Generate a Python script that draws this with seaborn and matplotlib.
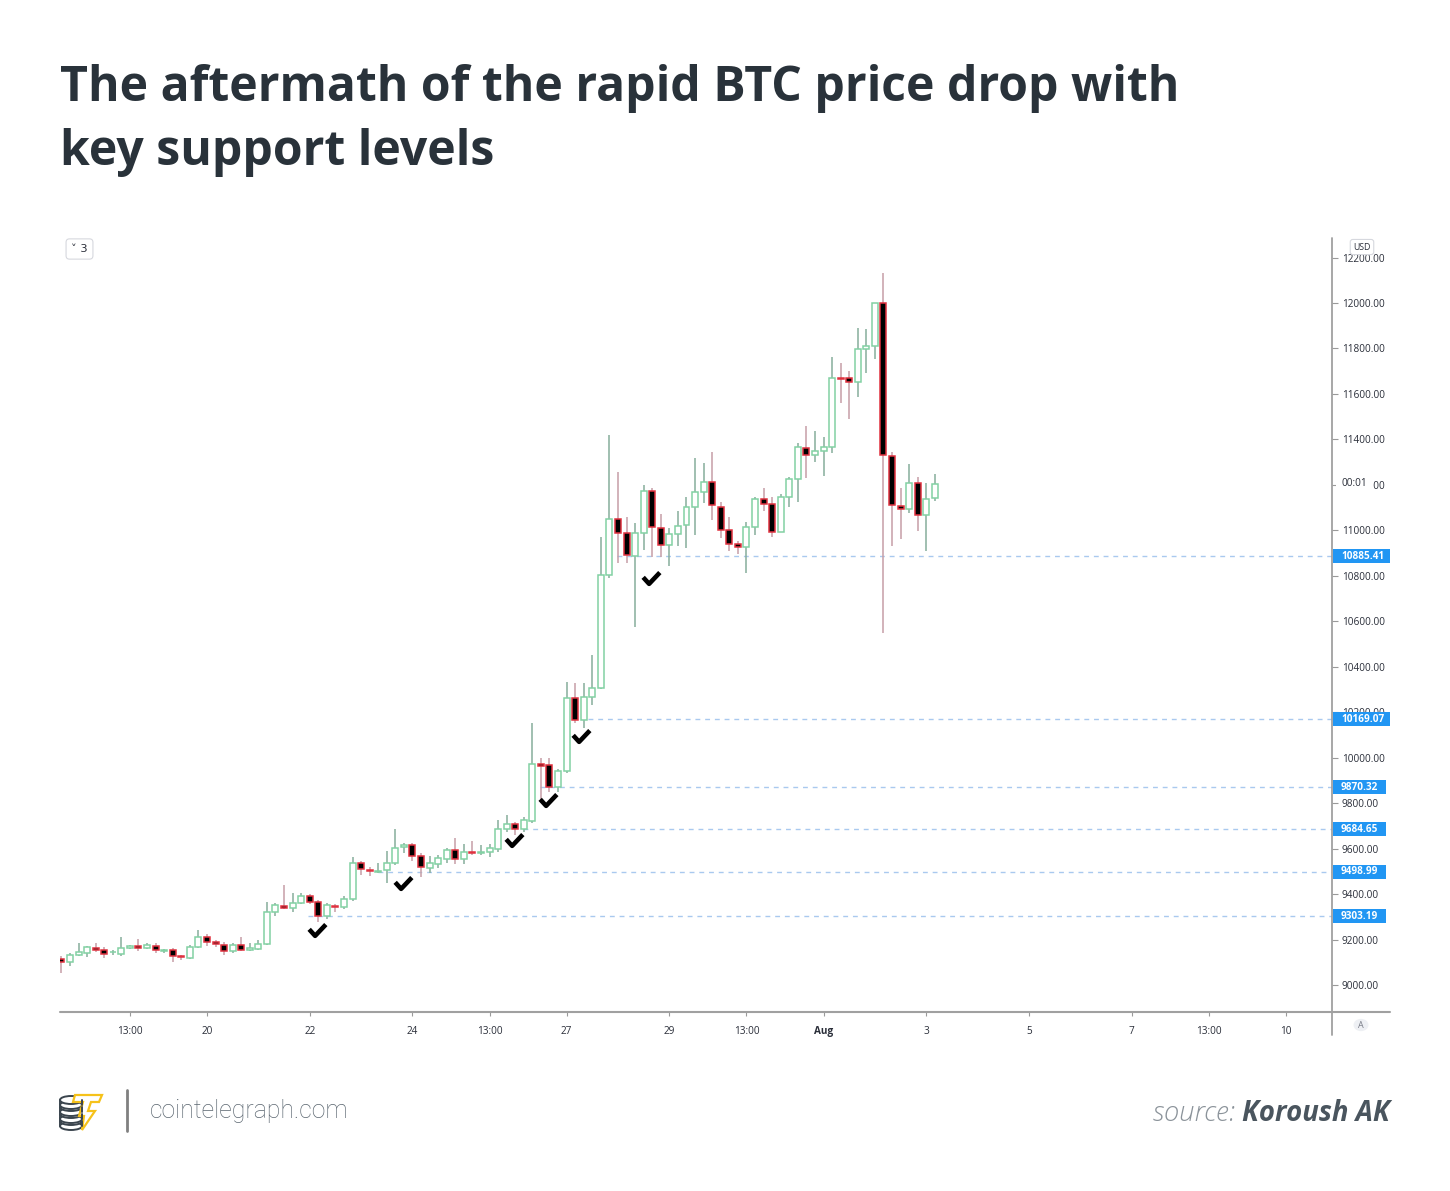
import numpy as np
import matplotlib
matplotlib.use("Agg")
import matplotlib.pyplot as plt
import seaborn as sns
from matplotlib.lines import Line2D
from matplotlib.patches import Rectangle, Ellipse, Polygon, Circle
from matplotlib.path import Path
from matplotlib.transforms import blended_transform_factory
from matplotlib.ticker import FuncFormatter

# ---------------- data (4h BTC/USD candles) ----------------
opens = [9114, 9101, 9132, 9142, 9164, 9154, 9143, 9138, 9162, 9171,
         9164, 9173, 9151, 9152, 9125, 9120, 9166, 9212, 9188, 9177,
         9148, 9174, 9154, 9158, 9179, 9320, 9349, 9337, 9359, 9393,
         9365, 9303, 9349, 9344, 9377, 9535, 9508, 9499, 9508, 9535,
         9606, 9614, 9569, 9515, 9533, 9554, 9594, 9553, 9587, 9580,
         9585, 9597, 9685, 9708, 9686, 9723, 9972, 9967, 9872, 9941,
         10261, 10166, 10269, 10308, 10804, 11050, 10987, 10887, 10990, 11174,
         11011, 10935, 10984, 11023, 11104, 11170, 11214, 11104, 11001, 10939,
         10925, 11013, 11138, 11115, 10991, 11148, 11226, 11361, 11331, 11350,
         11368, 11669, 11669, 11651, 11796, 11811, 11999, 11327, 11108, 11094,
         11207, 11067, 11141]
highs = [9127, 9141, 9185, 9173, 9185, 9169, 9152, 9210, 9176, 9204,
         9183, 9183, 9160, 9161, 9132, 9176, 9242, 9224, 9198, 9190,
         9183, 9210, 9186, 9198, 9367, 9359, 9440, 9403, 9403, 9400,
         9374, 9359, 9356, 9390, 9565, 9547, 9521, 9538, 9591, 9685,
         9626, 9625, 9580, 9569, 9574, 9601, 9645, 9621, 9635, 9614,
         9621, 9726, 9748, 9718, 9741, 10151, 9997, 9997, 9950, 10334,
         10328, 10330, 10452, 10972, 11419, 11258, 11060, 11031, 11199, 11185,
         11072, 11009, 11086, 11148, 11317, 11295, 11346, 11126, 11060, 10954,
         11038, 11148, 11188, 11148, 11160, 11236, 11386, 11459, 11437, 11412,
         11764, 11737, 11701, 11889, 11886, 11999, 12133, 11346, 11188, 11292,
         11236, 11210, 11246]
lows = [9053, 9084, 9127, 9123, 9145, 9120, 9130, 9127, 9157, 9150,
        9159, 9140, 9140, 9103, 9110, 9114, 9162, 9173, 9167, 9132,
        9140, 9150, 9150, 9154, 9176, 9305, 9334, 9320, 9355, 9357,
        9279, 9290, 9320, 9335, 9371, 9484, 9480, 9491, 9450, 9528,
        9580, 9546, 9474, 9491, 9513, 9535, 9533, 9533, 9572, 9572,
        9565, 9584, 9675, 9660, 9671, 9714, 9800, 9850, 9850, 9934,
        10154, 10129, 10232, 10300, 10790, 10855, 10855, 10576, 10913, 10884,
        10884, 10843, 10931, 10921, 10979, 11122, 11045, 10965, 10909, 10895,
        10811, 10979, 11087, 10972, 10991, 11104, 11126, 11229, 11299, 11237,
        11342, 11559, 11488, 11588, 11691, 11752, 10547, 10931, 10960, 11076,
        10998, 10910, 11130]
closes = [9101, 9132, 9145, 9166, 9152, 9138, 9145, 9162, 9173, 9164,
          9174, 9154, 9153, 9127, 9122, 9166, 9212, 9188, 9180, 9150,
          9174, 9154, 9163, 9179, 9320, 9351, 9337, 9359, 9393, 9365,
          9303, 9350, 9341, 9377, 9535, 9509, 9501, 9503, 9535, 9604,
          9616, 9569, 9517, 9535, 9557, 9594, 9553, 9587, 9580, 9587,
          9602, 9685, 9708, 9686, 9724, 9972, 9965, 9872, 9941, 10261,
          10166, 10265, 10308, 10804, 11050, 10987, 10891, 10990, 11173, 11013,
          10935, 10983, 11019, 11104, 11170, 11214, 11111, 11001, 10940, 10927,
          11013, 11136, 11114, 10991, 11148, 11226, 11365, 11331, 11350, 11368,
          11669, 11665, 11654, 11796, 11811, 11999, 11331, 11111, 11094, 11207,
          11067, 11138, 11204]

support_levels = [10885.41, 10169.07, 9870.32, 9684.65, 9498.99, 9303.19]
support_start = [64.9, 61.5, 55.9, 53.9, 37.0, 28.8]      # candle index where each line starts
check_x = [29.8, 39.9, 52.8, 56.8, 60.7, 68.8]              # check marks (candle index)
check_y = [9242, 9449, 9638, 9814, 10095, 10790]            # check marks (price)

xtick_pos = [8, 17, 29, 41, 50, 59, 71, 80, 89, 101, 113, 125, 134, 143]
xtick_labels = ["13:00", "20", "22", "24", "13:00", "27", "29", "13:00",
                "Aug", "3", "5", "7", "13:00", "10"]
ytick_vals = list(range(9000, 12201, 200))
last_price = 11204

title_lines = ["The aftermath of the rapid BTC price drop with", "key support levels"]
site = "cointelegraph.com"
source_label = "source: "
source_name = "Koroush AK"

# ---------------- styling ----------------
sns.set_theme(style="white")
plt.rcParams['font.family'] = ['Open Sans', 'DejaVu Sans']

W, H = 1450, 1191
fig = plt.figure(figsize=(W / 100, H / 100), dpi=100)
fig.patch.set_facecolor("white")

def fx(px):
    return px / W

def fy(py):
    return 1 - py / H

AX_L, AX_R, AX_T, AX_B = 60, 1332, 238, 1012
ax = fig.add_axes([fx(AX_L), fy(AX_B), fx(AX_R) - fx(AX_L), fy(AX_T) - fy(AX_B)])
ax.set_facecolor("white")
for s in ax.spines.values():
    s.set_visible(False)

step = 8.563
x0 = 61.4
ax.set_xlim((AX_L - x0) / step, (AX_R - x0) / step)
ppx = 3000 / 682.0
ax.set_ylim(12000 - (AX_B - 303) * ppx, 12000 + (303 - AX_T) * ppx)

o = np.array(opens, float); h = np.array(highs, float)
l = np.array(lows, float); c = np.array(closes, float)
idx = np.arange(len(o))
up = c >= o

wick_up, wick_dn = "#86ad9b", "#c69ea7"
edge_up, edge_dn = "#82d1a3", "#e0313f"
ax.vlines(idx, l, h, colors=np.where(up, wick_up, wick_dn), lw=1.1, zorder=2)
body_lo = np.minimum(o, c)
body_h = np.maximum(np.abs(c - o), 4)
ax.bar(idx, body_h, bottom=body_lo, width=0.7,
       color=np.where(up, "white", "black"),
       edgecolor=np.where(up, edge_up, edge_dn), linewidth=1.1, zorder=3)

# support lines
xmax = (AX_R - x0) / step
for lev, xs in zip(support_levels, support_start):
    ax.hlines(lev, xs, xmax, colors="#a9c9ef", lw=1.0, linestyles=(0, (3.5, 3.5)), zorder=1)

# check marks (custom tick-shaped marker)
check_marker = Path([(-0.7, 0.1), (-0.2, -0.45), (0.7, 0.5)],
                    [Path.MOVETO, Path.LINETO, Path.LINETO])
ax.plot(check_x, check_y, ls="none", marker=check_marker, ms=12, mew=3.3,
        mfc="none", mec="black", zorder=5)

# axes ticks
ax.yaxis.set_ticks_position("right")
ax.set_yticks(ytick_vals)
ax.yaxis.set_major_formatter(FuncFormatter(lambda v, p: f"{v:.2f}"))
ax.tick_params(axis="y", right=True, left=False, labelright=True, labelleft=False,
               length=4, width=0.8, color="#9a9a9a", labelsize=7.2,
               labelcolor="#2a2e39", pad=3)
ax.set_xticks(xtick_pos)
ax.set_xticklabels(xtick_labels)
ax.tick_params(axis="x", bottom=True, length=3, width=0.8, color="#9a9a9a",
               labelsize=7.2, labelcolor="#2a2e39", pad=7)
for t in ax.get_xticklabels():
    if t.get_text() == "Aug":
        t.set_fontweight("bold")

# blue price tags
bt = blended_transform_factory(ax.transAxes, ax.transData)
axw = AX_R - AX_L
tag_h = 14 * ppx
for lev in support_levels:
    txt = f"{lev:.2f}"
    wpx = 57 if lev >= 10000 else 53
    ax.add_patch(Rectangle((1 + 1 / axw, lev - tag_h / 2), wpx / axw, tag_h,
                           transform=bt, facecolor="#2196f3", edgecolor="none",
                           clip_on=False, zorder=6))
    ax.text(1 + 9 / axw, lev, txt, transform=bt, color="white", fontsize=7.2,
            fontweight="bold", ha="left", va="center", zorder=7, clip_on=False)

# countdown tag over the 11200 label
ax.add_patch(Rectangle((1 + 4 / axw, last_price - tag_h / 2), 37 / axw, tag_h,
                       transform=bt, facecolor="white", edgecolor="none",
                       clip_on=False, zorder=6))
ax.text(1 + 9 / axw, last_price, "00:01", transform=bt, color="#2a2e39",
        fontsize=7.2, ha="left", va="center", zorder=7, clip_on=False)

# frame lines (TradingView panes)
fig.add_artist(Line2D([fx(AX_R), fx(AX_R)], [fy(AX_T), fy(1035)], color="#a0a0a0", lw=1.3))
fig.add_artist(Line2D([fx(AX_L), fx(1390)], [fy(AX_B), fy(AX_B)], color="#a0a0a0", lw=1.5))

# USD badge
fig.text(fx(1362), fy(247), "USD", fontsize=6.3, color="#2a2e39", ha="center", va="center",
         bbox=dict(boxstyle="round,pad=0.35,rounding_size=0.3", fc="white", ec="#d6d8de", lw=0.8),
         zorder=10)
# auto-scale button
fig.add_artist(Circle((fx(1361), fy(1025)), 7.5 / W, transform=fig.transFigure,
                      facecolor="#eef0f4", edgecolor="none"))
fig.text(fx(1361), fy(1025), "A", fontsize=6.5, color="#787b86", ha="center", va="center")
# collapse button top-left
fig.text(fx(79.5), fy(249), "\u02c5 3", fontsize=8.2, color="#2a2e39", ha="center", va="center",
         family=["DejaVu Sans"],
         bbox=dict(boxstyle="round,pad=0.45,rounding_size=0.3", fc="white", ec="#d6d8de", lw=0.8))

# title
tcol = "#29323a"
fig.text(fx(60), fy(101), title_lines[0], fontsize=34.7, fontweight="bold", color=tcol, va="baseline")
fig.text(fx(60), fy(165), title_lines[1], fontsize=34.7, fontweight="bold", color=tcol, va="baseline")

# footer
fig.text(fx(150), fy(1118), site, fontsize=17.8, color="#5b6670", va="baseline",
         family=["Roboto", "DejaVu Sans"], fontweight="light")
fig.add_artist(Line2D([fx(127), fx(127)], [fy(1090), fy(1131)], color="#808080", lw=2))
tn = fig.text(fx(1390), fy(1121), source_name, fontsize=19.8, color="#4a555e", va="baseline",
              ha="right", fontweight="bold", style="italic")
fig.canvas.draw()
bb = tn.get_window_extent(fig.canvas.get_renderer())
fig.text(bb.x0 / W, fy(1121), source_label, fontsize=19.8, color="#8b939a", va="baseline",
         ha="right", style="italic", fontweight="light")

# logo
lax = fig.add_axes([fx(56), fy(1133), fx(106) - fx(56), fy(1087) - fy(1133)])
lax.set_xlim(56, 106); lax.set_ylim(1133, 1087); lax.axis("off")
for yc in [1121, 1114, 1107, 1100]:
    lax.add_patch(Rectangle((60, yc - 0.5), 22, 6, facecolor="white", edgecolor="none"))
    lax.add_patch(Ellipse((71, yc + 5), 22, 8, facecolor="white", edgecolor="#3b454e", lw=1.4))
    lax.plot([60, 60], [yc, yc + 5], color="#3b454e", lw=1.4)
    lax.plot([82, 82], [yc, yc + 5], color="#3b454e", lw=1.4)
    lax.add_patch(Ellipse((71, yc), 22, 8, facecolor="white", edgecolor="#3b454e", lw=1.4))
lax.add_patch(Polygon([(75, 1095), (102, 1095), (99, 1102), (91, 1102), (88, 1111),
                       (95, 1111), (82, 1130), (84, 1116), (79, 1116), (83, 1102), (73, 1102)],
                      closed=True, facecolor="white", edgecolor="#f6c21a", lw=1.6))

fig.savefig("out.png", dpi=100, facecolor="white")
